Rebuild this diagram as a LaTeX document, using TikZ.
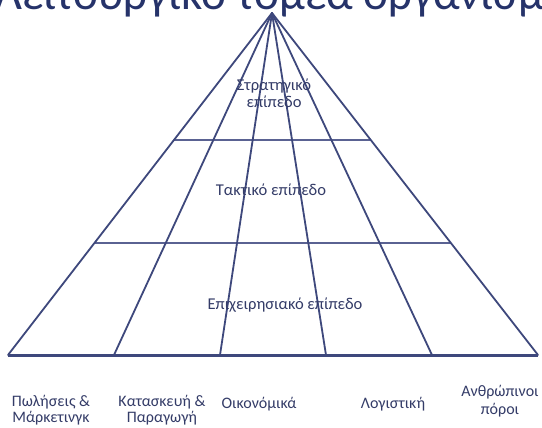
\documentclass[tikz,border=0pt]{standalone}
\usepackage{fontspec}
\setmainfont{Carlito}
\usetikzlibrary{calc}
\definecolor{navy}{HTML}{3E487C}
\definecolor{bandnavy}{HTML}{5A6292}
\definecolor{titlenavy}{HTML}{26336A}
\definecolor{labelgray}{HTML}{343C68}
\tikzset{
  ray/.style={draw=navy, line width=1.8pt, line cap=round},
  band/.style={draw=bandnavy, line width=2.8pt},
  baseline/.style={draw=navy, line width=3pt},
  levellabel/.style={text=labelgray, font=\fontsize{16.5}{17}\selectfont, align=center, inner sep=0pt},
  deptlabel/.style={text=labelgray, font=\fontsize{16}{16}\selectfont, align=center, inner sep=0pt},
  headline/.style={text=titlenavy, font=\fontsize{47}{50}\selectfont, anchor=base west, inner sep=0pt}
}
\begin{document}
\begin{tikzpicture}[x=1pt, y=-1pt]
  \useasboundingbox (0,0) rectangle (542,428);
  \clip (0,0) rectangle (542,428);
  \fill[white] (0,0) rectangle (542,428);

  % heading, cut by the top edge
  \node[headline] (heading) at (-5,10) {Λειτουργικό τομέα οργανισμού};

  % apex and the six points along the base
  \coordinate (apex) at (272,13);
  \foreach \i/\x in {0/8,1/114,2/220,3/326,4/432,5/538}
    \coordinate (b\i) at (\x,355);

  % level boundaries on the outer edges
  \coordinate (u0) at ($(apex)!0.3713!(b0)$);
  \coordinate (u5) at ($(apex)!0.3713!(b5)$);
  \coordinate (m0) at ($(apex)!0.6725!(b0)$);
  \coordinate (m5) at ($(apex)!0.6725!(b5)$);

  \draw[band] (u0) -- (u5);
  \draw[band] (m0) -- (m5);
  \draw[baseline] (b0) -- (b5);

  \foreach \i in {0,...,5}
    \draw[ray] (apex) -- (b\i);

  % level names
  \node[levellabel] (strat) at (274,93) {Στρατηγικό\\επίπεδο};
  \node[levellabel] (tact) at (271,190) {Τακτικό επίπεδο};
  \node[levellabel] (oper) at (285,305) {Επιχειρησιακό επίπεδο};

  % functional areas
  \node[deptlabel] (sales) at (51,410) {Πωλήσεις \&\\Μάρκετινγκ};
  \node[deptlabel] (prod) at (162,410) {Κατασκευή \&\\Παραγωγή};
  \node[deptlabel] (fin) at (259,404) {Οικονόμικά};
  \node[deptlabel] (acc) at (393,404) {Λογιστική};
  \node[deptlabel] (hr) at (500,401) {Ανθρώπινοι\\[2pt]πόροι};
\end{tikzpicture}
\end{document}
